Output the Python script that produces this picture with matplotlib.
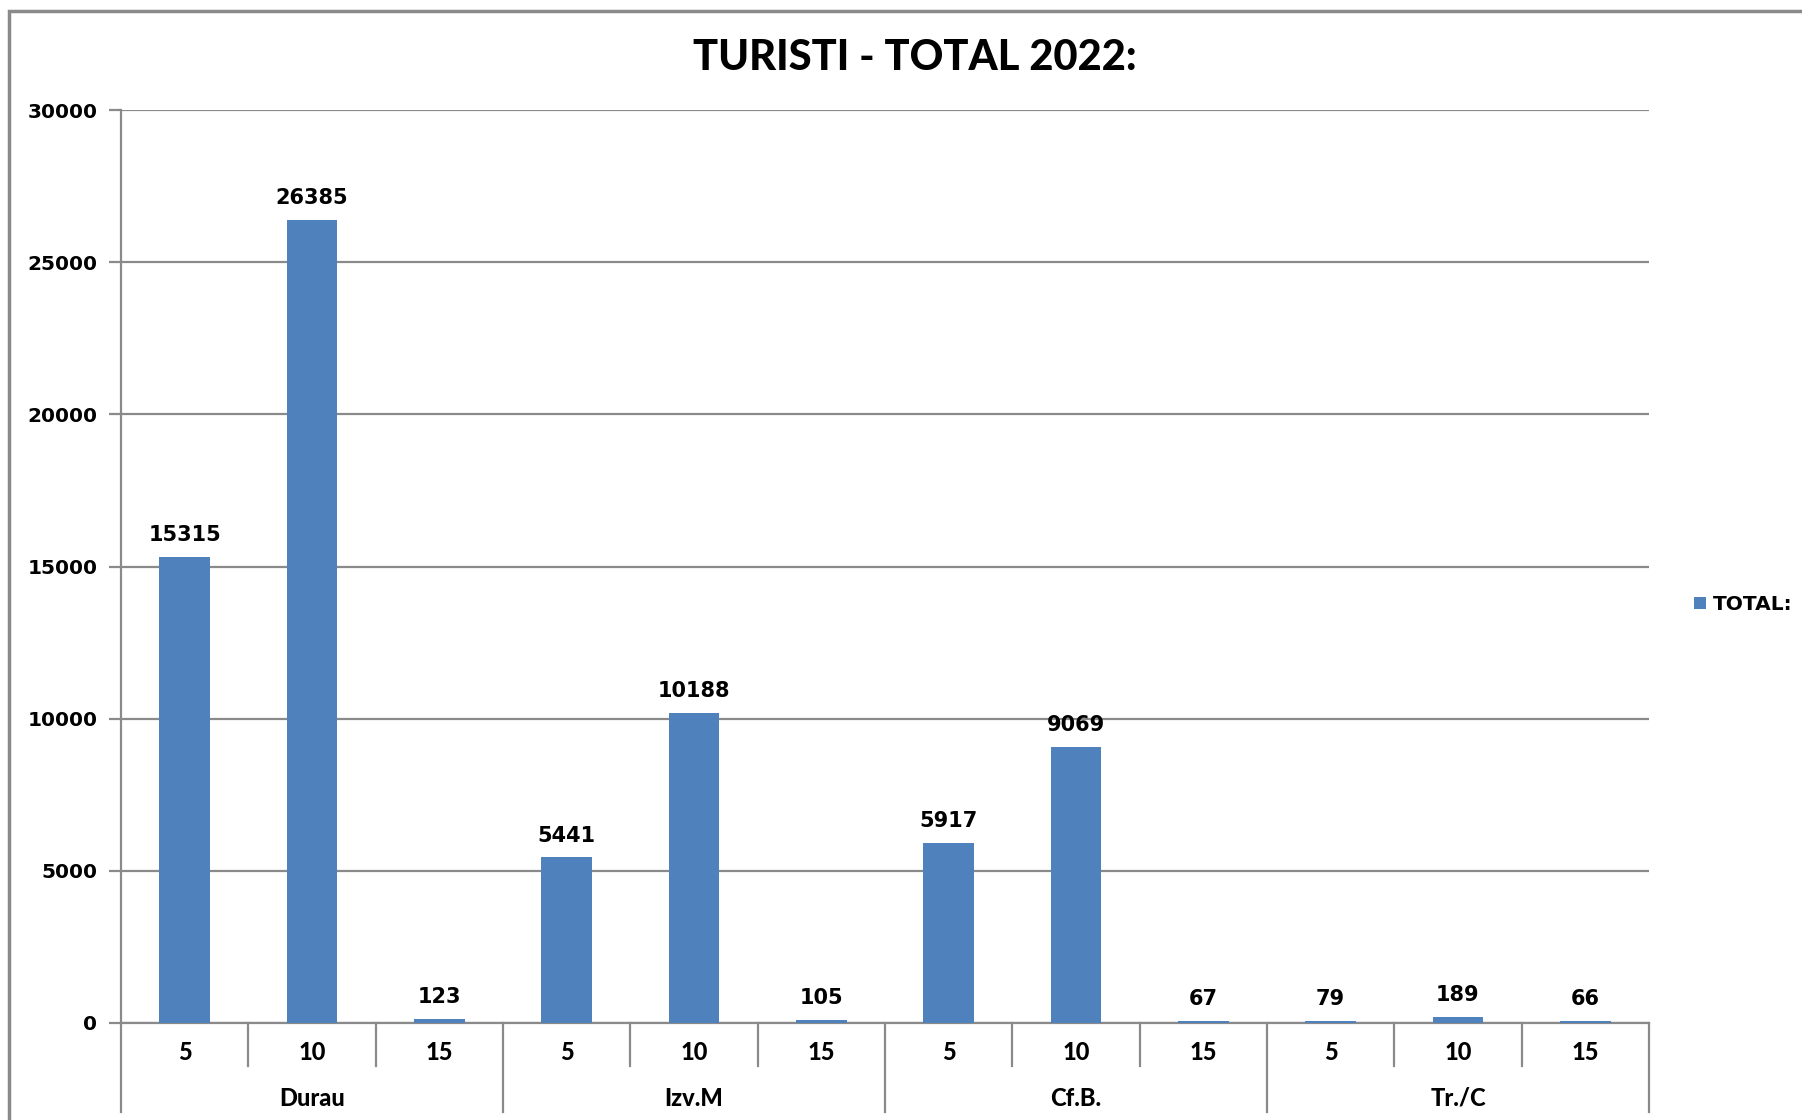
import matplotlib
matplotlib.use("Agg")
import matplotlib.pyplot as plt
from matplotlib.patches import Rectangle
from matplotlib.transforms import blended_transform_factory

groups = ["Durau", "Izv.M", "Cf.B.", "Tr./C"]
sub_labels = ["5", "10", "15"]
values = [15315, 26385, 123, 5441, 10188, 105, 5917, 9069, 67, 79, 189, 66]
yticks = [0, 5000, 10000, 15000, 20000, 25000, 30000]
title = "TURISTI - TOTAL 2022:"
series_name = "TOTAL:"

BAR = "#4F81BD"
GRAY = "#8A8A8A"
W, H = 1802, 1120
fig = plt.figure(figsize=(W / 100, H / 100), dpi=100)

# outer chart frame
fig.patches.append(Rectangle((9 / W, -0.05), 1.2, 1 - 11 / H + 0.05, transform=fig.transFigure,
                             fill=False, edgecolor=GRAY, linewidth=2.5))

left, right, top, bottom = 121, 1649, 110, 1023
ax = fig.add_axes([left / W, 1 - bottom / H, (right - left) / W, (bottom - top) / H])

n = len(values)
x = list(range(n))
ax.bar(x, values, width=0.40, color=BAR, zorder=3)
ax.set_xlim(-0.5, n - 0.5)
ax.set_ylim(0, 30000)
ax.set_yticks(yticks)
ax.set_yticklabels([str(v) for v in yticks], fontsize=14.5, fontweight="bold",
                   family="DejaVu Sans")
ax.yaxis.grid(True, color=GRAY, linewidth=1.6, zorder=0)
ax.tick_params(axis="y", length=9, width=1.6, color=GRAY, pad=8)
ax.set_xticks([])
for s in ["top", "right"]:
    ax.spines[s].set_visible(False)
for s in ["left", "bottom"]:
    ax.spines[s].set_color(GRAY)
    ax.spines[s].set_linewidth(1.6)

for xi, v in zip(x, values):
    ax.annotate(str(v), (xi, v), xytext=(0, 8.5), textcoords="offset points",
                ha="center", va="bottom", fontsize=15, fontweight="bold",
                family="DejaVu Sans")

# multi-level category axis
tr = blended_transform_factory(ax.transData, ax.transAxes)
axh = bottom - top
inner_y = -30 / axh
group_y = -75 / axh
short = -43 / axh
longl = -89 / axh
for i in range(n):
    ax.text(i, inner_y, sub_labels[i % 3], transform=tr, ha="center", va="center",
            fontsize=17, fontweight="black", family="Lato")
for b in range(n + 1):
    yend = longl if b % 3 == 0 else short
    ax.plot([b - 0.5, b - 0.5], [0, yend], transform=tr, color=GRAY, linewidth=1.6,
            clip_on=False)
for g, name in enumerate(groups):
    ax.text(g * 3 + 1, group_y, name, transform=tr, ha="center", va="center",
            fontsize=17, fontweight="black", family="Lato")

fig.text(915 / W, 1 - 58 / H, title, ha="center", va="center", fontsize=30,
         fontweight="black", family="Lato")

# legend
fig.patches.append(Rectangle((1694 / W, 1 - 609 / H), 12 / W, 12 / H,
                             transform=fig.transFigure, facecolor=BAR, edgecolor="none"))
fig.text(1713 / W, 1 - 604 / H, series_name, ha="left", va="center", fontsize=14.5,
         fontweight="bold", family="DejaVu Sans")

fig.savefig("out.png", dpi=100)
